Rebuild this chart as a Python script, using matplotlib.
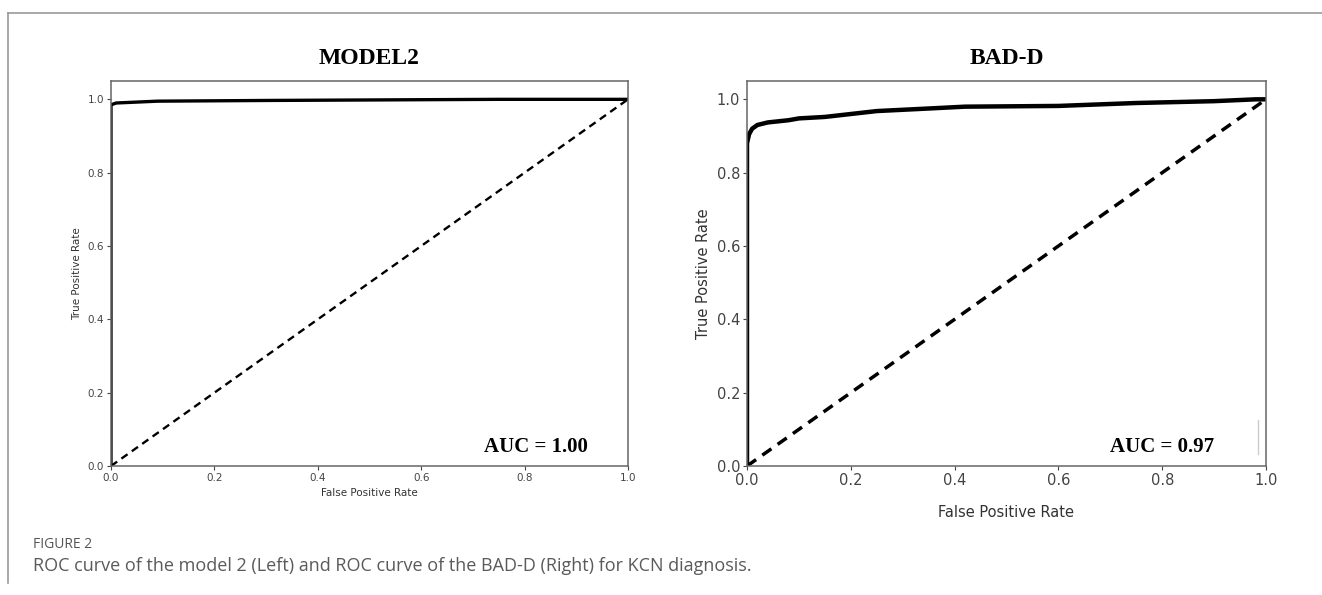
import matplotlib.pyplot as plt
from matplotlib.lines import Line2D

# ROC points
model2_fpr = [0.0, 0.0, 0.01, 0.09, 0.31, 0.75, 1.0]
model2_tpr = [0.0, 0.985, 0.99, 0.995, 0.997, 1.0, 1.0]

badd_fpr = [0.0, 0.0, 0.004, 0.01, 0.02, 0.04, 0.08, 0.1, 0.15, 0.2, 0.25, 0.35,
            0.42, 0.6, 0.75, 0.9, 0.98, 1.0]
badd_tpr = [0.0, 0.88, 0.905, 0.92, 0.93, 0.937, 0.943, 0.948, 0.952, 0.96, 0.968,
            0.975, 0.98, 0.982, 0.99, 0.995, 1.0, 1.0]

titles = ['MODEL2', 'BAD-D']
auc_labels = ['AUC = 1.00', 'AUC = 0.97']
ticks = [0.0, 0.2, 0.4, 0.6, 0.8, 1.0]
tick_labels = ['0.0', '0.2', '0.4', '0.6', '0.8', '1.0']

fig = plt.figure(figsize=(13.22, 5.95), dpi=100)

# frame lines of the page
fig.add_artist(Line2D([8 / 1322, 1.0], [1 - 13 / 595, 1 - 13 / 595], color='#9a9a9a', lw=1.2))
fig.add_artist(Line2D([8 / 1322, 8 / 1322], [1 - 13 / 595, 1 - 583 / 595], color='#9a9a9a', lw=1.2))

ax1 = fig.add_axes([111 / 1322, 1 - 466 / 595, 517 / 1322, 385 / 595])
ax2 = fig.add_axes([747 / 1322, 1 - 466 / 595, 519 / 1322, 385 / 595])

# axis, data, tick size, curve width, dash width, xlabel pad, auc x
setups = [
    (ax1, model2_fpr, model2_tpr, 7.5, 2.4, 1.7, 4, 0.923),
    (ax2, badd_fpr, badd_tpr, 10.5, 3.2, 2.5, 12, 0.90),
]

for i, (ax, fpr, tpr, fs, lw, dlw, xpad, aucx) in enumerate(setups):
    ax.plot(fpr, tpr, color='black', lw=lw, solid_joinstyle='miter')
    ax.plot([0, 1], [0, 1], color='black', lw=dlw, ls=(0, (3.2, 2.2)))
    ax.set_xlim(0, 1)
    ax.set_ylim(0, 1.05)
    ax.set_xticks(ticks)
    ax.set_xticklabels(tick_labels)
    ax.set_yticks(ticks)
    ax.set_yticklabels(tick_labels)
    ax.tick_params(labelsize=fs, colors='#444444', length=3, width=0.8, pad=2)
    for sp in ax.spines.values():
        sp.set_color('#666666')
        sp.set_linewidth(1.1)
    ax.set_xlabel('False Positive Rate', fontsize=fs, color='#333333', labelpad=xpad)
    ax.set_ylabel('True Positive Rate', fontsize=fs, color='#333333', labelpad=4)
    ax.set_title(titles[i], fontsize=17, fontweight='bold', family='Liberation Serif', pad=12)
    ax.text(aucx, 0.05, auc_labels[i], transform=ax.transAxes, ha='right', va='center',
            fontsize=15, fontweight='bold', family='Liberation Serif')

# faint artifact line near the AUC label on the right
ax2.plot([0.985, 0.985], [0.03, 0.12], transform=ax2.transAxes, color='#cccccc', lw=1)

fig.text(33 / 1322, 1 - 544 / 595, 'FIGURE 2', fontsize=10, color='#555555',
         family='Open Sans', va='center')
fig.text(33 / 1322, 1 - 566 / 595,
         'ROC curve of the model 2 (Left) and ROC curve of the BAD-D (Right) for KCN diagnosis.',
         fontsize=13, color='#5a5a5a', family='Open Sans', va='center')

fig.savefig('out.png', dpi=100)
